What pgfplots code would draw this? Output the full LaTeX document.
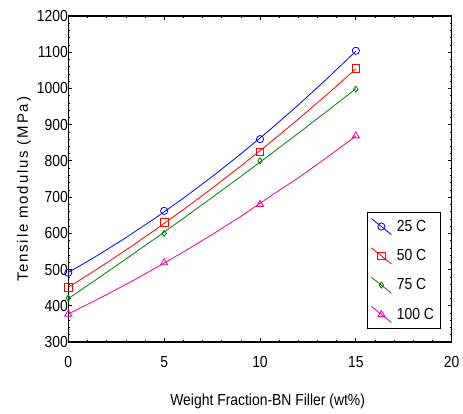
\documentclass[border=0pt]{standalone}
\usepackage{fontspec}
\setmainfont{Liberation Sans}
\newfontfamily\narrowfont{Liberation Sans}[FakeStretch=0.87]
\newfontfamily\spacedfont{Liberation Sans}[LetterSpace=12]
\usepackage{pgfplots}
\pgfplotsset{compat=1.18}
\begin{document}
\begin{tikzpicture}
\useasboundingbox (-68.3bp,-72bp) rectangle (394.7bp,342bp);
\begin{axis}[
  scale only axis,
  width=383.4bp, height=326bp,
  at={(0,0)}, anchor=south west,
  xmin=0, xmax=20, ymin=300, ymax=1200,
  xtick={0,5,10,15,20},
  ytick={300,400,...,1200},
  minor tick num=4,
  tick align=inside,
  major tick length=3.5bp,
  minor tick length=2bp,
  axis line style={line width=1.1bp},
  every tick/.style={black, line width=0.8bp},
  every minor tick/.style={black, line width=0.6bp},
  /pgf/number format/assume math mode=true,
  /pgf/number format/1000 sep={},
  tick label style={font=\fontsize{16bp}{18bp}\narrowfont},
  yticklabel style={inner xsep=0.3bp},
  xticklabel style={yshift=-11bp},
  xlabel={Weight Fraction-BN Filler (wt\%)},
  xlabel style={font=\fontsize{16bp}{18bp}\narrowfont, at={(rel axis cs:0.52,0)}, anchor=center, yshift=-59bp},
  ylabel={Tensile modulus (MPa)},
  ylabel style={font=\fontsize{15bp}{17bp}\spacedfont, at={(rel axis cs:0,0.468)}, anchor=center, yshift=44.3bp},
  clip=false,
  legend image code/.code={\draw[#1,mark repeat=2,mark phase=2] plot coordinates {(0bp,8bp)(10bp,0bp)(20bp,-8bp)};},
  legend style={at={(rel axis cs:0.778,0.398)}, anchor=north west, draw=black, line width=0.8bp, fill=white,
    font=\fontsize{16bp}{18bp}\narrowfont, row sep=12.5bp, inner xsep=4bp, inner ysep=5.5bp,
    /tikz/every odd column/.append style={column sep=3bp}},
  legend cell align=left,
]
% fitted curves
\addplot[blue, line width=0.8bp, forget plot] coordinates {(0,491.95)(1.5,538.28)(3,587.89)(4.5,640.79)(6,696.97)(7.5,756.44)(9,819.19)(10.5,885.23)(12,954.55)(13.5,1027.16)(15,1103.05)};
\addplot[red, line width=0.8bp, forget plot] coordinates {(0,451.0)(1.5,501.18)(3,553.6)(4.5,608.28)(6,665.2)(7.5,724.38)(9,785.8)(10.5,849.48)(12,915.4)(13.5,983.58)(15,1054.0)};
\addplot[green!50!black, line width=0.8bp, forget plot] coordinates {(0,419.85)(1.5,473.93)(3,528.87)(4.5,584.66)(6,641.31)(7.5,698.81)(9,757.17)(10.5,816.38)(12,876.45)(13.5,937.37)(15,999.15)};
\addplot[magenta, line width=0.8bp, forget plot] coordinates {(0,377.45)(1.5,417.04)(3,458.75)(4.5,502.57)(6,548.51)(7.5,596.56)(9,646.73)(10.5,701.01)(12,753.41)(13.5,809.92)(15,868.55)};
% data points
\addplot[blue, only marks, mark=o, mark size=3.6bp, mark options={line width=0.8bp}, forget plot] coordinates {(0,491)(5,662)(10,860)(15,1104)};
\addplot[red, only marks, mark=square, mark size=3.8bp, mark options={line width=0.8bp}, forget plot] coordinates {(0,450)(5,630)(10,825)(15,1055)};
\addplot[green!50!black, only marks, mark=diamond, mark size=3bp, mark options={line width=0.8bp}, forget plot] coordinates {(0,421)(5,600)(10,800)(15,998)};
\addplot[magenta, only marks, mark=triangle, mark size=4bp, mark options={line width=0.8bp}, forget plot] coordinates {(0,377)(5,519)(10,680)(15,869)};
\addlegendimage{blue, line width=0.8bp, mark=o, mark size=3.6bp}
\addlegendentry{25 C}
\addlegendimage{red, line width=0.8bp, mark=square, mark size=3.8bp}
\addlegendentry{50 C}
\addlegendimage{green!50!black, line width=0.8bp, mark=diamond, mark size=3bp}
\addlegendentry{75 C}
\addlegendimage{magenta, line width=0.8bp, mark=triangle, mark size=4bp}
\addlegendentry{100 C}
\end{axis}
\end{tikzpicture}
\end{document}
